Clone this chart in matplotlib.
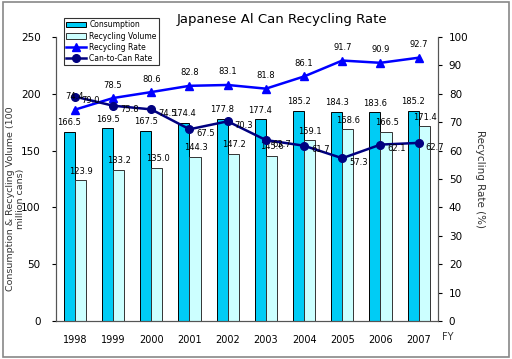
import numpy as np
import matplotlib.pyplot as plt

years = ['1998', '1999', '2000', '2001', '2002', '2003', '2004', '2005', '2006', '2007']
consumption = [166.5, 169.5, 167.5, 174.4, 177.8, 177.4, 185.2, 184.3, 183.6, 185.2]
recycle_vol = [123.9, 133.2, 135.0, 144.3, 147.2, 145.6, 159.1, 168.6, 166.5, 171.4]
recycle_rate = [74.4, 78.5, 80.6, 82.8, 83.1, 81.8, 86.1, 91.7, 90.9, 92.7]
can_rate = [79.0, 75.8, 74.5, 67.5, 70.3, 63.7, 61.7, 57.3, 62.1, 62.7]

fig = plt.figure(figsize=(5.12, 3.59), dpi=100)
ax1 = fig.add_axes([0.109, 0.106, 0.746, 0.791])
ax2 = ax1.twinx()

x = np.arange(len(years))
w = 0.29
b1 = ax1.bar(x - w / 2, consumption, w, color='#00CCF5', edgecolor='black', linewidth=0.7, label='Consumption')
b2 = ax1.bar(x + w / 2, recycle_vol, w, color='#CCFFFF', edgecolor='#333333', linewidth=0.7, label='Recycling Volume')
for i in range(len(x)):
    ax1.text(x[i] - w / 2, consumption[i] + 4, '%.1f' % consumption[i], ha='center', va='bottom', fontsize=6)
    ax1.text(x[i] + w / 2 + 0.02, recycle_vol[i] + 4, '%.1f' % recycle_vol[i], ha='center', va='bottom', fontsize=6)

l1, = ax2.plot(x, recycle_rate, color='#0000FF', marker='^', markersize=5.5, linewidth=1.8, label='Recycling Rate')
l2, = ax2.plot(x, can_rate, color='#000080', marker='o', markersize=5.5, linewidth=1.8, label='Can-to-Can Rate')
for i in range(len(x)):
    ax2.text(x[i], recycle_rate[i] + 3, '%.1f' % recycle_rate[i], ha='center', va='bottom', fontsize=6)
    ax2.text(x[i] + 0.18, can_rate[i] - 1.5, '%.1f' % can_rate[i], ha='left', va='center', fontsize=6)

ax1.set_xlim(-0.5, len(x) - 0.5)
ax1.set_ylim(0, 250)
ax2.set_ylim(0, 100)
ax1.set_yticks(np.arange(0, 251, 50))
ax2.set_yticks(np.arange(0, 101, 10))
ax1.set_xticks(x)
ax1.set_xticklabels(years)
ax1.tick_params(axis='x', length=0, labelsize=7, pad=10)
ax1.tick_params(axis='y', labelsize=7.5, length=3, pad=8)
ax2.tick_params(axis='y', labelsize=7.5, length=3, pad=5)
ax1.text(len(x) - 0.5 + 0.1, -10, 'FY', fontsize=7, ha='left', va='top', color='#333333')

for a in (ax1, ax2):
    a.spines['top'].set_visible(False)
    for s in ('left', 'right', 'bottom'):
        a.spines[s].set_color('#555555')

ax1.set_ylabel('Consumption & Recycling Volume (100\nmillion cans)', fontsize=6.8, color='#333333')
ax1.yaxis.set_label_coords(-0.08, 0.43)
ax2.set_ylabel('Recycling Rate (%)', fontsize=7.5, rotation=270, labelpad=12, color='#333333')

fig.text(0.55, 0.935, 'Japanese Al Can Recycling Rate', ha='center', fontsize=9.5)

leg = fig.legend([b1, b2, l1, l2], ['Consumption', 'Recycling Volume', 'Recycling Rate', 'Can-to-Can Rate'],
                 loc='upper left', bbox_to_anchor=(0.125, 0.95), fontsize=5.5, frameon=True,
                 fancybox=False, edgecolor='black', handlelength=2.6, borderpad=0.3, labelspacing=0.3,
                 handletextpad=0.4, borderaxespad=0)
leg.get_frame().set_linewidth(0.8)

fig.patches.append(plt.Rectangle((0.005, 0.005), 0.99, 0.99, transform=fig.transFigure,
                                 fill=False, edgecolor='#888888', linewidth=1.2))

plt.savefig('out.png', dpi=100)
